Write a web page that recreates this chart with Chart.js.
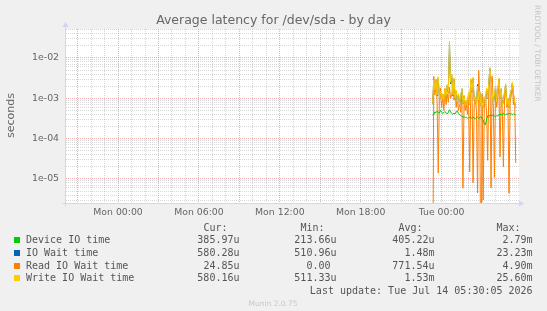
<!DOCTYPE html>
<html><head><meta charset="utf-8">
<script src="https://cdn.jsdelivr.net/npm/chart.js@4.4.0/dist/chart.umd.min.js"></script>
<style>
html,body{margin:0;padding:0;background:#f0f0f0;}
#wrap{position:relative;width:547px;height:311px;overflow:hidden;background:#f0f0f0;}
canvas{position:absolute;left:0;top:0;}
.t{position:absolute;white-space:pre;}
.mono{font-family:"DejaVu Sans Mono",monospace;font-size:10px;line-height:12px;color:#555;}
.r{text-align:right;}
.sq{position:absolute;width:6px;height:6px;}
.vert{writing-mode:vertical-rl;}
</style></head><body>
<div id="wrap"><canvas id="c" width="547" height="311"></canvas><div id="txt"></div></div>
<script>
// ---------- data ----------
const chartTitle = "Average latency for /dev/sda - by day";
const yAxisTitle = "seconds";
const seriesNames = ["Device IO time", "IO Wait time", "Read IO Wait time", "Write IO Wait time"];
const seriesColors = ["#00cc00", "#0066b3", "#ff8000", "#ffcc00"];
const firstSampleHour = 23 + 20 / 60;   // Mon 23:20, hours since Mon 00:00
const sampleStepHours = 5 / 60;         // 5-minute samples

const deviceIO = [
  3.8e-4, 3.9e-4, 4.6e-4, 4.4e-4, 4.8e-4, 4.5e-4, 4.3e-4, 5.0e-4, 4.6e-4, 4.2e-4,
  4.4e-4, 4.7e-4, 4.3e-4, 4.1e-4, 4.5e-4, 5.2e-4, 4.6e-4, 4.2e-4, 4.0e-4, 4.3e-4,
  4.1e-4, 4.6e-4, 4.9e-4, 4.2e-4, 3.9e-4, 3.7e-4, 3.6e-4, 3.4e-4, 3.5e-4, 3.3e-4,
  3.4e-4, 3.2e-4, 3.3e-4, 3.4e-4, 3.3e-4, 3.2e-4, 3.4e-4, 3.3e-4, 3.1e-4, 3.3e-4,
  3.4e-4, 3.2e-4, 3.3e-4, 3.5e-4, 3.1e-4, 2.9e-4, 2.3e-4, 2.2e-4, 3.0e-4, 3.7e-4,
  3.8e-4, 3.6e-4, 3.9e-4, 3.7e-4, 3.8e-4, 3.6e-4, 3.5e-4, 3.7e-4, 3.6e-4, 4.0e-4,
  3.9e-4, 4.1e-4, 3.8e-4, 4.2e-4, 4.0e-4, 3.9e-4, 4.1e-4, 4.0e-4, 4.3e-4, 4.0e-4,
  4.2e-4, 3.9e-4, 4.1e-4, 4.0e-4, 3.86e-4
];
const ioWait = [
  7.4e-4, 2.6e-3, 1.55e-3, 2.9e-3, 1.15e-3, 3.2e-3, 9.8e-4, 1.45e-3, 8.3e-4, 1.25e-3,
  8.8e-4, 1.7e-3, 1.05e-3, 2.1e-3, 1.35e-3, 2.32e-2, 2.3e-3, 3.8e-3, 1.15e-3, 3.0e-3,
  9.8e-4, 1.5e-3, 7.8e-4, 1.25e-3, 6.9e-4, 1.05e-3, 1.7e-3, 7.4e-4, 1.15e-3, 6.4e-4,
  8.8e-4, 6.4e-4, 1.3e-3, 6.9e-4, 2.9e-3, 1.45e-3, 3.1e-3, 8.8e-4, 1.05e-3, 6.4e-4,
  2.2e-3, 8.8e-4, 1.4e-3, 6.4e-4, 7.8e-4, 5.9e-4, 1.05e-3, 6.9e-4, 1.7e-3, 9.8e-4,
  2.4e-3, 5.5e-3, 2.9e-3, 1.35e-3, 6.9e-4, 1.15e-3, 1.9e-3, 7.8e-4, 1.45e-3, 3.0e-3,
  9.8e-4, 1.7e-3, 6.4e-4, 8.8e-4, 1.35e-3, 2.2e-3, 6.9e-4, 9.8e-4, 5.9e-4, 1.15e-3,
  1.55e-3, 2.4e-3, 1.25e-3, 7.8e-4, 5.8e-4
];
const readWait = [
  0, 3.5e-3, 1.2e-3, 2.5e-3, 8e-4, 1.4e-5, 9e-4, 1.8e-3, 6e-4, 1.1e-3,
  5e-4, 1.6e-3, 7e-4, 1.3e-3, 8e-4, 1.9e-3, 1.0e-3, 1.2e-3, 2.6e-3, 9e-4,
  1.5e-3, 6e-4, 1.0e-3, 5e-4, 8e-4, 4.5e-4, 1.2e-3, 5.9e-6, 9e-4, 5e-4,
  7e-4, 4e-4, 1.1e-3, 1.5e-5, 1.8e-3, 2.6e-3, 8e-6, 7e-4, 1.0e-3, 5e-4,
  4.5e-6, 4.9e-3, 9e-4, 0, 1.3e-3, 3e-6, 6e-4, 1.0e-3, 5e-4, 2.9e-5,
  1.6e-3, 4.0e-3, 6e-6, 3.5e-3, 8e-4, 1.1e-5, 1.4e-3, 6e-4, 1.1e-3, 2.2e-3,
  3.5e-5, 1.3e-3, 5e-4, 2e-5, 1.0e-3, 1.8e-3, 6e-4, 9e-4, 4.4e-6, 8e-4,
  1.2e-3, 2.0e-3, 7e-4, 1.0e-3, 2.485e-5
];
const writeWait = [
  7.5e-4, 2.8e-3, 1.6e-3, 3.0e-3, 1.2e-3, 3.4e-3, 1.0e-3, 1.5e-3, 8.5e-4, 1.3e-3,
  9e-4, 1.8e-3, 1.1e-3, 2.2e-3, 1.4e-3, 2.56e-2, 2.5e-3, 4.0e-3, 1.2e-3, 3.2e-3,
  1.0e-3, 1.6e-3, 8e-4, 1.3e-3, 7e-4, 1.1e-3, 1.8e-3, 7.5e-4, 1.2e-3, 6.5e-4,
  9e-4, 6.5e-4, 1.4e-3, 7e-4, 3.1e-3, 1.5e-3, 3.3e-3, 9e-4, 1.1e-3, 6.5e-4,
  2.0e-3, 9e-4, 1.5e-3, 6.5e-4, 8e-4, 6e-4, 1.1e-3, 7e-4, 1.8e-3, 1.0e-3,
  2.5e-3, 5.8e-3, 3.0e-3, 1.4e-3, 7e-4, 1.2e-3, 2.0e-3, 8e-4, 1.5e-3, 3.2e-3,
  1.0e-3, 1.8e-3, 6.5e-4, 9e-4, 1.4e-3, 2.3e-3, 7e-4, 1.0e-3, 6e-4, 1.2e-3,
  1.6e-3, 2.5e-3, 1.3e-3, 8e-4, 5.8e-4
];

const xTickHours = [0, 6, 12, 18, 24];
const xTickLabels = ["Mon 00:00", "Mon 06:00", "Mon 12:00", "Mon 18:00", "Tue 00:00"];
const yTickValues = [1e-2, 1e-3, 1e-4, 1e-5];
const yTickLabels = ["1e-02", "1e-03", "1e-04", "1e-05"];

const legendHeaders = ["Cur:", "Min:", "Avg:", "Max:"];
const legendCur = ["385.97u", "580.28u", "24.85u", "580.16u"];
const legendMin = ["213.66u", "510.96u", "0.00 ", "511.33u"];
const legendAvg = ["405.22u", "1.48m", "771.54u", "1.53m"];
const legendMax = ["2.79m", "23.23m", "4.90m", "25.60m"];
const lastUpdate = "Last update: Tue Jul 14 05:30:05 2026";
const versionText = "Munin 2.0.75";
const watermark = "RRDTOOL / TOBI OETIKER";

const xMin = -3.86, xMax = 29.74;
const yMin = 2.54e-6, yMax = 0.0522;
// ---------- end data ----------

const logFloor = 1e-9; // zero cannot be shown on a log axis: draw it off the bottom
function toPoints(arr) {
  return arr.map((v, i) => ({ x: firstSampleHour + i * sampleStepHours, y: v > 0 ? v : logFloor }));
}
const xGrid = [];
for (let h = Math.ceil(xMin); h <= Math.floor(xMax); h++) xGrid.push(h);
const yGrid = [];
for (let e = -6; e <= -2; e++) for (let m = 1; m <= 9; m++) {
  const v = Number((m * Math.pow(10, e)).toPrecision(3));
  if (v >= yMin && v <= yMax) yGrid.push({ v, major: m === 1 });
}
const minorCol = "rgba(150,150,150,0.38)";
const majorCol = "rgba(222,79,79,0.45)";
const axisCol = "#cfd6f8";

const bgPlugin = {
  id: "bg",
  beforeDraw(chart) {
    const { ctx, chartArea: a } = chart;
    ctx.save();
    ctx.fillStyle = "#f0f0f0"; ctx.fillRect(0, 0, chart.width, chart.height);
    ctx.fillStyle = "#ffffff"; ctx.fillRect(a.left, a.top, a.right - a.left, a.bottom - a.top);
    ctx.restore();
  },
  afterDraw(chart) {
    const { ctx, chartArea: a } = chart;
    ctx.save();
    ctx.strokeStyle = axisCol; ctx.fillStyle = axisCol; ctx.lineWidth = 1;
    const x0 = a.left - 0.5, y0 = a.bottom + 0.5;
    ctx.beginPath(); ctx.moveTo(x0, y0 + 3); ctx.lineTo(x0, a.top - 4); ctx.stroke();
    ctx.beginPath(); ctx.moveTo(x0 - 3, a.top - 2); ctx.lineTo(x0 + 3, a.top - 2); ctx.lineTo(x0, a.top - 7); ctx.closePath(); ctx.fill();
    ctx.beginPath(); ctx.moveTo(x0 - 3, y0); ctx.lineTo(a.right + 1, y0); ctx.stroke();
    ctx.beginPath(); ctx.moveTo(a.right, y0 - 3); ctx.lineTo(a.right, y0 + 3); ctx.lineTo(a.right + 5, y0); ctx.closePath(); ctx.fill();
    ctx.restore();
  }
};

const mk = (k, data, order) => ({
  label: seriesNames[k], data: toPoints(data), borderColor: seriesColors[k],
  borderWidth: 1, pointRadius: 0, tension: 0, fill: false, order
});

new Chart(document.getElementById("c"), {
  type: "line",
  data: { datasets: [mk(0, deviceIO, 1), mk(1, ioWait, 3), mk(2, readWait, 2), mk(3, writeWait, 0)] },
  plugins: [bgPlugin],
  options: {
    responsive: false, animation: false, devicePixelRatio: 1,
    layout: { padding: { left: 0, top: 29, right: 28, bottom: 88 } },
    plugins: { legend: { display: false }, tooltip: { enabled: false }, title: { display: false } },
    scales: {
      x: {
        type: "linear", min: xMin, max: xMax,
        afterBuildTicks: s => { s.ticks = xGrid.map(v => ({ value: v })); },
        afterFit: s => { s.height = 20; },
        grid: { color: c => (c.tick && Math.abs(c.tick.value % 3) < 1e-9) ? majorCol : minorCol, lineWidth: 1, drawTicks: false },
        border: { display: false, dash: [1, 1] },
        ticks: {
          autoSkip: false, maxRotation: 0, padding: 4, color: "#666",
          font: { family: "'DejaVu Sans'", size: 9.33 },
          callback: v => { const k = xTickHours.indexOf(v); return k >= 0 ? xTickLabels[k] : ""; }
        }
      },
      y: {
        type: "logarithmic", min: yMin, max: yMax,
        afterBuildTicks: s => { s.ticks = yGrid.map(g => ({ value: g.v })); },
        afterFit: s => { s.width = 66; },
        grid: {
          color: c => {
            if (!c.tick) return minorCol;
            const g = yGrid.find(q => Math.abs(q.v - c.tick.value) / q.v < 1e-6);
            return g && g.major ? majorCol : minorCol;
          }, lineWidth: 1, drawTicks: false
        },
        border: { display: false, dash: [1, 1] },
        ticks: {
          autoSkip: false, padding: 7, color: "#666",
          font: { family: "'DejaVu Sans'", size: 9.33 },
          callback: v => { const k = yTickValues.findIndex(t => Math.abs(t - v) / t < 1e-6); return k >= 0 ? yTickLabels[k] : ""; }
        }
      }
    }
  }
});

// ---------- text ----------
const txt = document.getElementById("txt");
function add(html, style, cls) {
  const d = document.createElement("div");
  d.className = "t " + (cls || "");
  d.textContent = html;
  Object.assign(d.style, style);
  txt.appendChild(d);
  return d;
}
add(chartTitle, { left: "0px", top: "12px", width: "547px", textAlign: "center", font: "12.5px 'DejaVu Sans'", color: "#666", lineHeight: "16px" });
// y-axis title: vertical, reads bottom-to-top
add(yAxisTitle, { left: "4px", top: "92px", height: "46px", font: "11px 'DejaVu Sans'", color: "#666", lineHeight: "14px", transform: "rotate(180deg)" }, "vert");
// watermark: vertical, reads top-to-bottom
add(watermark, { left: "532px", top: "5px", font: "7.5px 'DejaVu Sans'", color: "#c4c4c4", lineHeight: "10px" }, "vert");

const colRight = [239.5, 336.5, 434.5, 532.6];
const cols = [legendCur, legendMin, legendAvg, legendMax];
const rowY = [240.2, 253.1, 265.7, 277.9];
legendHeaders.forEach((h, j) => {
  add(h + "  ", { right: (547 - colRight[j]) + "px", top: (227.7 - 6) + "px" }, "mono r");
});
seriesNames.forEach((n, i) => {
  const sq = document.createElement("div");
  sq.className = "sq";
  Object.assign(sq.style, { left: "14px", top: (rowY[i] - 3) + "px", background: seriesColors[i] });
  txt.appendChild(sq);
  add(n, { left: "26px", top: (rowY[i] - 6) + "px" }, "mono");
  cols.forEach((c, j) => add(c[i], { right: (547 - colRight[j]) + "px", top: (rowY[i] - 6) + "px" }, "mono r"));
});
add(lastUpdate, { right: (547 - 532.6) + "px", top: (290.8 - 6) + "px" }, "mono r");
add(versionText, { left: "0px", width: "546px", textAlign: "center", top: (303.7 - 5) + "px", font: "7.5px 'DejaVu Sans'", color: "#c8c8c8", lineHeight: "10px" });
</script>
</body></html>
